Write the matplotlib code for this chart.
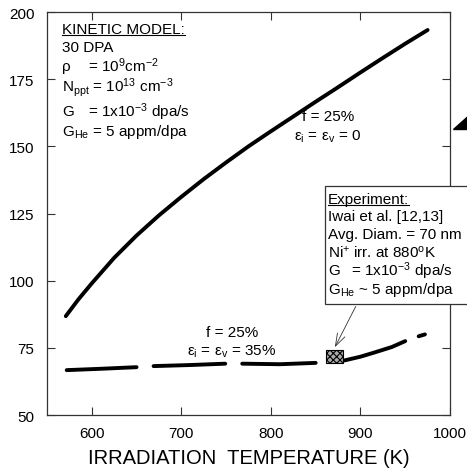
import numpy as np
import matplotlib
matplotlib.use("Agg")
import matplotlib.pyplot as plt
from matplotlib.patches import Rectangle, Polygon
from matplotlib.lines import Line2D

plt.rcParams['font.family'] = ['Liberation Sans', 'DejaVu Sans']
plt.rcParams['mathtext.fontset'] = 'custom'
plt.rcParams['mathtext.rm'] = 'Liberation Sans'
plt.rcParams['mathtext.it'] = 'Liberation Sans:italic'
plt.rcParams['mathtext.bf'] = 'Liberation Sans:bold'
plt.rcParams['hatch.linewidth'] = 0.8

# Data
upper_T = [571, 585, 600, 625, 650, 675, 700, 725, 750, 775, 800, 825, 850, 875, 900, 925, 950, 975]
upper_D = [86.8, 93.0, 99.0, 108.5, 116.8, 124.3, 131.2, 137.8, 144.0, 150.0, 155.6, 161.1,
           166.6, 172.0, 177.5, 182.9, 188.2, 193.3]

lower_T = [572, 610, 650, np.nan, 669, 710, 749, np.nan, 768, 810, 850, np.nan,
           882, 900, 915, 935, 950, np.nan, 965, 972]
lower_D = [66.7, 67.2, 67.8, np.nan, 68.2, 68.6, 69.1, np.nan, 69.1, 68.9, 69.4, np.nan,
           70.3, 71.7, 73.2, 75.3, 77.5, np.nan, 79.3, 80.0]

exp_T = 871.0
exp_D = 71.8
exp_dT = 19.0
exp_dD = 5.0

xticks = [600, 700, 800, 900, 1000]
yticks = [50, 75, 100, 125, 150, 175, 200]

W, H = 467, 477
fig = plt.figure(figsize=(W / 100, H / 100), dpi=100)
L, R, B, T = 47, 450, 416, 13
ax = fig.add_axes([L / W, 1 - B / H, (R - L) / W, (B - T) / H])

ax.plot(upper_T, upper_D, color='black', lw=2.8, solid_capstyle='round', solid_joinstyle='round')
ax.plot(lower_T, lower_D, color='black', lw=2.8, solid_capstyle='round', solid_joinstyle='round')

ax.add_patch(Rectangle((exp_T - exp_dT / 2, exp_D - exp_dD / 2), exp_dT, exp_dD,
                       facecolor='#aaaaaa', edgecolor='black', hatch='xxxxx', lw=0.8, zorder=4))

ax.set_xlim(550, 1000)
ax.set_ylim(50, 200)
ax.set_xticks(xticks)
ax.set_yticks(yticks)
ax.tick_params(direction='in', length=6, width=0.8, color='#333333', labelsize=11,
               top=True, right=True, labelcolor='black')
ax.tick_params(axis='x', pad=8)
ax.tick_params(axis='y', pad=9)
for s in ax.spines.values():
    s.set_linewidth(0.9)
    s.set_color('#333333')
ax.set_xlabel('IRRADIATION  TEMPERATURE (K)', fontsize=14.5, labelpad=6)


def fx(px):
    return (px - L) / (R - L)


def fy(py):
    return (B - py) / (B - T)


fs = 11
tr = ax.transAxes
t_kin = ax.text(fx(62), fy(30), 'KINETIC MODEL:', fontsize=fs, transform=tr, va='center', ha='left')
ax.text(fx(62), fy(48), '30 DPA', fontsize=fs, transform=tr, va='center', ha='left')
ax.text(fx(62), fy(67), 'ρ', fontsize=fs, transform=tr, va='center', ha='left')
ax.text(fx(88), fy(66), r'= 10$^{9}$cm$^{-2}$', fontsize=fs, transform=tr, va='center', ha='left')
ax.text(fx(62), fy(88), r'N$_{\mathrm{ppt}}$ = 10$^{13}$ cm$^{-3}$', fontsize=fs, transform=tr, va='center', ha='left')
ax.text(fx(62), fy(112), 'G', fontsize=fs, transform=tr, va='center', ha='left')
ax.text(fx(88), fy(112), r'= 1x10$^{-3}$ dpa/s', fontsize=fs, transform=tr, va='center', ha='left')
ax.text(fx(62), fy(132), r'G$_{\mathrm{He}}$ = 5 appm/dpa', fontsize=fs, transform=tr, va='center', ha='left')

ax.text(fx(328), fy(117), 'f = 25%', fontsize=fs, transform=tr, va='center', ha='center')
ax.text(fx(328), fy(137), r'ε$_{\mathrm{i}}$ = ε$_{\mathrm{v}}$ = 0', fontsize=fs, transform=tr, va='center', ha='center')
ax.text(fx(232), fy(333), 'f = 25%', fontsize=fs, transform=tr, va='center', ha='center')
ax.text(fx(232), fy(352), r'ε$_{\mathrm{i}}$ = ε$_{\mathrm{v}}$ = 35%', fontsize=fs, transform=tr, va='center', ha='center')

# Experiment box
box = Rectangle((325 / W, 1 - 305 / H), (W + 5 - 325) / W, (305 - 187) / H,
                transform=fig.transFigure, facecolor='white', edgecolor='#333333',
                lw=0.9, zorder=10, clip_on=False)
fig.add_artist(box)
ex = 328 / W
t_exp = fig.text(ex, 1 - 200 / H, 'Experiment:', fontsize=fs, va='center', ha='left', zorder=11)
fig.text(ex, 1 - 217 / H, 'Iwai et al. [12,13]', fontsize=fs, va='center', ha='left', zorder=11)
fig.text(ex, 1 - 235 / H, 'Avg. Diam. = 70 nm', fontsize=fs, va='center', ha='left', zorder=11)
fig.text(ex, 1 - 253 / H, r'Ni$^{+}$ irr. at 880$^{\mathrm{o}}$K', fontsize=fs, va='center', ha='left', zorder=11)
fig.text(ex, 1 - 271 / H, 'G', fontsize=fs, va='center', ha='left', zorder=11)
fig.text(351 / W, 1 - 271 / H, r'= 1x10$^{-3}$ dpa/s', fontsize=fs, va='center', ha='left', zorder=11)
fig.text(ex, 1 - 290 / H, r'G$_{\mathrm{He}}$ ~ 5 appm/dpa', fontsize=fs, va='center', ha='left', zorder=11)

# Arrow from box to experiment point
ax.annotate('', xy=(exp_T - 1, exp_D + exp_dD / 2), xycoords='data',
            xytext=(357 / W, 1 - 305 / H), textcoords='figure fraction',
            arrowprops=dict(arrowstyle='->,head_length=0.9,head_width=0.3', lw=0.6, color='#333333'),
            zorder=5)

# Black triangle at right edge
fig.add_artist(Polygon([[452.5 / W, 1 - 130 / H], [1.01, 1 - 130 / H], [1.01, 1 - 113 / H]],
                       closed=True, transform=fig.transFigure, facecolor='black', edgecolor='black',
                       clip_on=False))

# Underlines
fig.canvas.draw()
rend = fig.canvas.get_renderer()
for t in (t_kin, t_exp):
    bb = t.get_window_extent(rend)
    yline = bb.y0 + 1.5
    fig.add_artist(Line2D([bb.x0 / W, bb.x1 / W], [yline / H, yline / H],
                          transform=fig.transFigure, color='black', lw=0.8, zorder=12))

fig.savefig('out.png', dpi=100)
